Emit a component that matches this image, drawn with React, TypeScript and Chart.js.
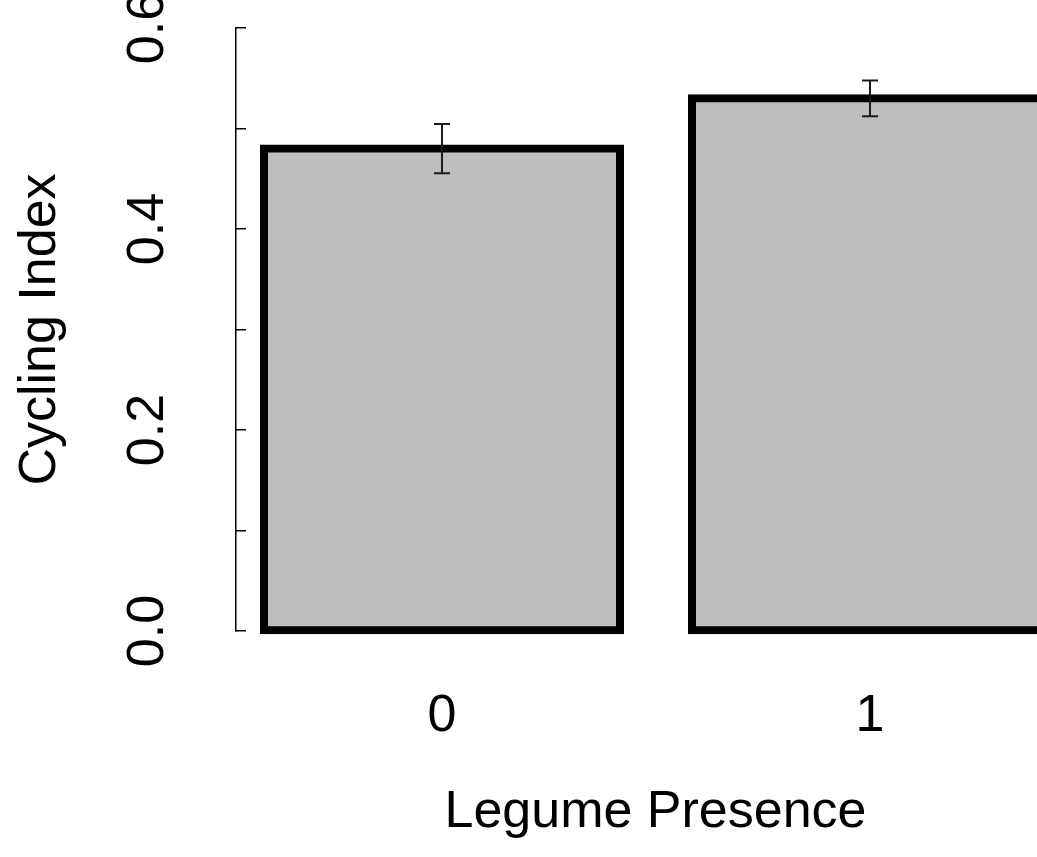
import React, { useEffect, useRef } from "react";
import { Chart, registerables } from "chart.js";

Chart.register(...registerables);

// ---- data ----
const categories = ["0", "1"];
const values = [0.48, 0.53];
const errors = [0.0245, 0.0178];
const yTickValues = [0, 0.2, 0.4, 0.6];
const yTickLabels = ["0.0", "0.2", "0.4", "0.6"];
const xTitle = "Legume Presence";
const yTitle = "Cycling Index";

const FONT = "'Liberation Sans', Arial, Helvetica, sans-serif";
const CANVAS_W = 1075;
const CANVAS_H = 857;

const errorBarPlugin = {
  id: "errorBars",
  afterDatasetsDraw(chart: any) {
    const { ctx, scales } = chart;
    const x = scales.x;
    const y = scales.y;
    ctx.save();
    ctx.strokeStyle = "#1a1a1a";
    ctx.lineWidth = 2;
    values.forEach((v, i) => {
      const px = x.getPixelForValue(i);
      const top = y.getPixelForValue(v + errors[i]);
      const bot = y.getPixelForValue(v - errors[i]);
      ctx.beginPath();
      ctx.moveTo(px, top);
      ctx.lineTo(px, bot);
      ctx.moveTo(px - 8, top);
      ctx.lineTo(px + 8, top);
      ctx.moveTo(px - 8, bot);
      ctx.lineTo(px + 8, bot);
      ctx.stroke();
    });
    ctx.restore();
  },
};

export default function App() {
  const ref = useRef<HTMLCanvasElement | null>(null);

  useEffect(() => {
    if (!ref.current) return;
    const chart = new Chart(ref.current, {
      type: "bar",
      data: {
        datasets: [
          {
            data: categories.map((_, i) => ({ x: i, y: values[i] })),
            backgroundColor: "#BEBEBE",
            borderColor: "#000000",
            borderWidth: 8,
            borderSkipped: false,
            inflateAmount: 4,
            barPercentage: 356 / 428,
            categoryPercentage: 1,
            clip: false,
          } as any,
        ],
      },
      options: {
        responsive: false,
        animation: false,
        devicePixelRatio: 1,
        layout: { padding: { top: 28, left: 0, right: 0, bottom: 0 } },
        plugins: {
          legend: { display: false },
          tooltip: { enabled: false },
        },
        scales: {
          x: {
            type: "linear",
            position: "bottom",
            offset: false,
            min: (236 - 442) / 428,
            max: (CANVAS_W - 442) / 428,
            afterBuildTicks: (scale: any) => {
              scale.ticks = categories.map((_, i) => ({ value: i }));
            },
            afterFit: (scale: any) => {
              scale.height = CANVAS_H - 631;
              scale.paddingLeft = 0;
              scale.paddingRight = 0;
            },
            grid: { display: false, drawTicks: false, offset: false },
            border: { display: false },
            ticks: {
              autoSkip: false,
              maxRotation: 0,
              minRotation: 0,
              padding: 54,
              color: "#000",
              font: { family: FONT, size: 52 },
              callback: (v: any) => categories[Math.round(Number(v))] ?? "",
            },
            title: {
              display: true,
              text: xTitle,
              color: "#000",
              font: { family: FONT, size: 52 },
              padding: { top: 0, bottom: 13 },
            },
          },
          y: {
            type: "linear",
            position: "left",
            min: 0,
            max: 0.6,
            afterFit: (scale: any) => {
              scale.width = 236;
              scale.paddingTop = 0;
              scale.paddingBottom = 0;
            },
            grid: {
              display: true,
              drawOnChartArea: false,
              drawTicks: true,
              tickLength: -10,
              color: "#000",
              lineWidth: 1.5,
            },
            border: { display: true, color: "#000", width: 1.5 },
            ticks: {
              stepSize: 0.1,
              autoSkip: false,
              minRotation: 90,
              maxRotation: 90,
              crossAlign: "center",
              padding: 61,
              color: "#000",
              font: { family: FONT, size: 52 },
              callback: (v: any) => {
                const k = yTickValues.findIndex((t) => Math.abs(t - Number(v)) < 1e-9);
                return k >= 0 ? yTickLabels[k] : "";
              },
            },
            title: {
              display: true,
              text: yTitle,
              color: "#000",
              font: { family: FONT, size: 52 },
              padding: { top: 9, bottom: 0 },
            },
          },
        },
      } as any,
      plugins: [errorBarPlugin],
    });
    return () => chart.destroy();
  }, []);

  return (
    <div
      style={{
        position: "absolute",
        left: 0,
        top: 0,
        width: 1037,
        height: 857,
        overflow: "hidden",
        background: "#fff",
      }}
    >
      <canvas
        ref={ref}
        width={CANVAS_W}
        height={CANVAS_H}
        style={{ display: "block", width: CANVAS_W, height: CANVAS_H }}
      />
    </div>
  );
}
